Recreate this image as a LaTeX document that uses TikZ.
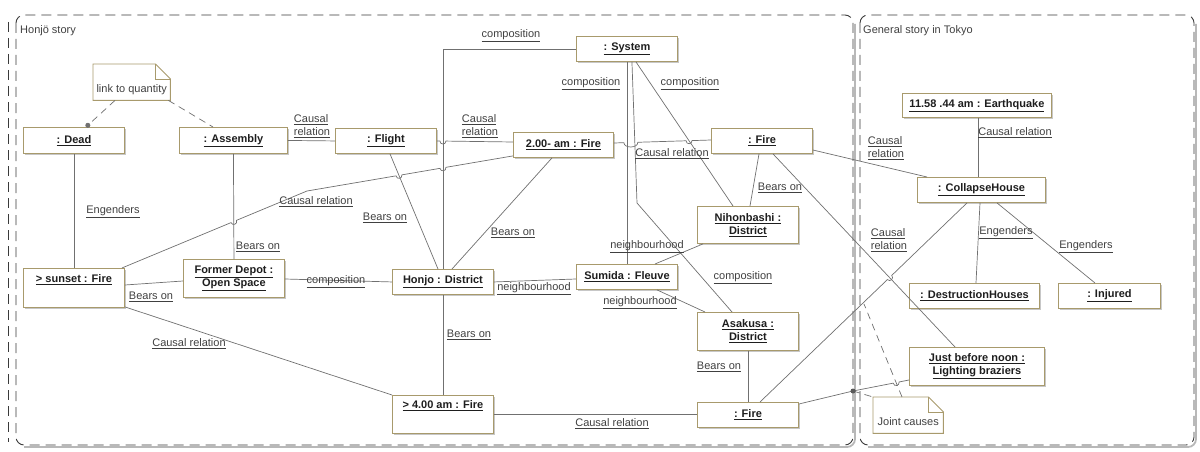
\documentclass[tikz,border=0pt]{standalone}
\usepackage{fontspec}
\setmainfont{Liberation Sans}
\usetikzlibrary{calc,shadows,arrows.meta}
\definecolor{boxc}{HTML}{A89A6C}
\definecolor{linec}{HTML}{707070}
\definecolor{txtc}{HTML}{1E1E1E}
\definecolor{lblc}{HTML}{404040}
\definecolor{framec}{HTML}{3A3A3A}
\newcommand{\myul}[1]{\underline{#1}}
\begin{document}
\begin{tikzpicture}[x=1pt,y=-1pt,
  obj/.style={draw=boxc, fill=white, line width=0.9pt, anchor=north west, inner sep=0pt, align=center,
    font=\fontsize{11}{13}\selectfont\bfseries, text=txtc,
    drop shadow={shadow xshift=2pt, shadow yshift=-2pt, fill=black!22, opacity=1}},
  lbl/.style={inner sep=0pt, align=left, font=\fontsize{11}{13}\selectfont, text=lblc},
  conn/.style={draw=linec, line width=0.7pt},
  notelink/.style={draw=linec, line width=0.7pt, dash pattern=on 7pt off 5pt},
  frame/.style={draw=framec, line width=0.9pt, dash pattern=on 10pt off 6pt},
  notebox/.style={inner sep=0pt, anchor=north west, font=\fontsize{11}{13}\selectfont, text=lblc, align=left},
  noteline/.style={draw=boxc, line width=0.9pt},
  hop/.style={bend right=90, looseness=1.7},
  widehop/.style={bend right=90, looseness=1.1}
]
\useasboundingbox (0,0) rectangle (1200,452);

% ---------- frames ----------
\draw[black!28, line width=1.8pt, rounded corners=8pt] (855,24) -- (855,447) -- (24,447);
\draw[black!28, line width=1.8pt, rounded corners=8pt] (1196,24) -- (1196,447) -- (868,447);
\draw[frame, rounded corners=8pt] (16,15) rectangle (853,445);
\draw[frame, rounded corners=8pt] (860,15) rectangle (1194,445);
\draw[frame] (8,22) -- (8,442);
\node[lbl, anchor=west, text=txtc!85] (honjolbl) at (20,31) {Honjö story};
\node[lbl, anchor=west, text=txtc!85] (genlbl) at (863,31) {General story in Tokyo};

% ---------- objects ----------
\node[obj, minimum width=101pt, minimum height=26pt] (dead) at (23,127) {\myul{: Dead}};
\node[obj, minimum width=108pt, minimum height=26pt] (assembly) at (179,127) {\myul{: Assembly}};
\node[obj, minimum width=101pt, minimum height=25pt] (flight) at (335,128) {\myul{: Flight}};
\node[obj, minimum width=100pt, minimum height=25pt] (fire200) at (513,132) {\myul{2.00- am : Fire}};
\node[obj, minimum width=101pt, minimum height=25pt] (system) at (576,36) {\myul{: System}};
\node[obj, minimum width=101pt, minimum height=25pt] (fireA) at (711,128) {\myul{: Fire}};
\node[obj, minimum width=149pt, minimum height=24pt] (quake) at (902,93) {\myul{11.58 .44 am : Earthquake}};
\node[obj, minimum width=128pt, minimum height=25pt] (collapse) at (917,177) {\myul{: CollapseHouse}};
\node[obj, minimum width=130pt, minimum height=25pt] (destr) at (909,283) {\myul{: DestructionHouses}};
\node[obj, minimum width=102pt, minimum height=25pt] (injured) at (1058,283) {\myul{: Injured}};
\node[obj, minimum width=135pt, minimum height=38pt] (noon) at (909,347) {\myul{Just before noon :}\\\myul{Lighting braziers}};
\node[obj, minimum width=101pt, minimum height=25pt] (fireB) at (697,402) {\myul{: Fire}};
\node[obj, minimum width=101pt, minimum height=38pt] (asakusa) at (697,312) {\myul{Asakusa :}\\\myul{District}};
\node[obj, minimum width=101pt, text height=13pt, text depth=25pt] (fire400) at (392,395) {\myul{> 4.00 am : Fire}};
\node[obj, minimum width=101pt, text height=14pt, text depth=25pt] (sunset) at (23,268) {\myul{> sunset : Fire}};
\node[obj, minimum width=101pt, minimum height=38pt] (depot) at (183,259) {\myul{Former Depot :}\\\myul{Open Space}};
\node[obj, minimum width=101pt, minimum height=25pt] (honjo) at (392,269) {\myul{Honjo : District}};
\node[obj, minimum width=101pt, minimum height=25pt] (sumida) at (576,264) {\myul{Sumida : Fleuve}};
\node[obj, minimum width=101pt, minimum height=37pt] (nihon) at (697,206) {\myul{Nihonbashi :}\\\myul{District}};

% ---------- notes ----------
\node[notebox, minimum width=77pt, text height=28pt, text depth=8pt] (note1) at (93,64) {link to quantity};
\draw[noteline] (note1.north west) -- ($(note1.north east)+(-15,0)$) -- ($(note1.north east)+(0,15)$)
  -- (note1.south east) -- (note1.south west) -- cycle;
\draw[noteline] ($(note1.north east)+(-15,0)$) -- ($(note1.north east)+(-15,15)$) -- ($(note1.north east)+(0,15)$);
\node[notebox, minimum width=70pt, text height=28pt, text depth=8pt] (note2) at (873,397) {Joint causes};
\draw[noteline] (note2.north west) -- ($(note2.north east)+(-15,0)$) -- ($(note2.north east)+(0,15)$)
  -- (note2.south east) -- (note2.south west) -- cycle;
\draw[noteline] ($(note2.north east)+(-15,0)$) -- ($(note2.north east)+(-15,15)$) -- ($(note2.north east)+(0,15)$);

% ---------- helper coordinates ----------
\coordinate (c10a) at (honjo.north |- system.west);
\coordinate (f11a) at ($(flight.south west)+(55,0)$);
\coordinate (f11b) at ($(honjo.north west)+(46,0)$);
\coordinate (s8a) at ($(sunset.north east)+(-3,0)$);
\coordinate (s8b) at (307,191);
\coordinate (s8c) at ($(fire200.south west)+(0,-2)$);
\coordinate (s14a) at ($(system.south)+(5,0)$);
\coordinate (s14b) at (637,203);
\coordinate (s14c) at ($(asakusa.north west)+(35,0)$);
\coordinate (n14a) at ($(system.south)+(9,0)$);
\coordinate (n14b) at ($(nihon.north west)+(36,0)$);
\coordinate (e13a) at ($(fire200.north east)+(0,11)$);
\coordinate (e13b) at ($(fireA.north west)+(0,12)$);
\coordinate (e16a) at ($(fireA.south west)+(62,0)$);
\coordinate (e16b) at ($(noon.north west)+(46,0)$);
\coordinate (e21a) at ($(fireB.north west)+(63,0)$);
\coordinate (e21b) at ($(collapse.south west)+(50,0)$);
\coordinate (jc) at (853,391);
\coordinate (jn) at (864,304);
\coordinate (e26a) at ($(fireB.north east)+(0,2)$);
\coordinate (e26b) at ($(noon.north west)+(0,33)$);
\coordinate (nt2) at ($(note2.north west)+(29,0)$);
\coordinate (e9a) at (flight.east);
\coordinate (e9b) at ($(fire200.north west)+(0,10)$);

\coordinate (h8a) at (intersection of s8a--s8b and assembly.south--depot.north);
\coordinate (h8b) at (intersection of s8b--s8c and f11a--f11b);
\coordinate (h8c) at (intersection of s8b--s8c and c10a--honjo.north);
\coordinate (h9) at (intersection of e9a--e9b and c10a--honjo.north);
\coordinate (h13a) at (intersection of e13a--e13b and system.south--sumida.north);
\coordinate (h13b) at (intersection of e13a--e13b and s14a--s14b);
\coordinate (h13c) at (intersection of e13a--e13b and n14a--n14b);
\coordinate (h21) at (intersection of e21a--e21b and e16a--e16b);
\coordinate (h26) at (intersection of jc--e26b and nt2--jn);

% ---------- connectors ----------
\draw[notelink, -{Circle[length=5pt]}] ($(note1.south west)+(22,0)$) -- ($(dead.north west)+(63,0)$);
\draw[notelink] ($(note1.south east)+(-2,0)$) -- ($(assembly.north west)+(34,0)$);
\draw[conn] (assembly.east) -- (flight.west);
\draw[conn] (dead.south) -- (sunset.north);
\draw[conn] (assembly.south) -- (depot.north);
\draw[conn] ($(sunset.north east)+(0,17)$) -- ($(depot.north west)+(0,22)$);
\draw[conn] ($(depot.north east)+(0,20)$) -- (honjo.west);
\draw[conn] (s8a) -- ($(h8a)!3pt!(s8a)$) to[hop] ($(h8a)!3pt!(s8b)$) -- (s8b)
  -- ($(h8b)!3pt!(s8b)$) to[hop] ($(h8b)!3pt!(s8c)$)
  -- ($(h8c)!3pt!(s8b)$) to[hop] ($(h8c)!3pt!(s8c)$) -- (s8c);
\draw[conn] (e9a) -- ($(h9)!3pt!(e9a)$) to[hop] ($(h9)!3pt!(e9b)$) -- (e9b);
\draw[conn] (system.west) -| (honjo.north);
\draw[conn] (f11a) -- (f11b);
\draw[conn] ($(fire200.south west)+(39,0)$) -- ($(honjo.north west)+(60,0)$);
\draw[conn] (e13a) -- ($(h13a)!3pt!(e13a)$) to[widehop] ($(h13b)!3pt!(e13b)$)
  -- ($(h13c)!3pt!(e13a)$) to[hop] ($(h13c)!3pt!(e13b)$) -- (e13b);
\draw[conn] (system.south) -- (sumida.north);
\draw[conn] (s14a) -- (s14b) -- (s14c);
\draw[conn] (n14a) -- (n14b);
\draw[conn] ($(fireA.south west)+(48,0)$) -- ($(nihon.north west)+(53,0)$);
\draw[conn] (e16a) -- (e16b);
\draw[conn] ($(fireA.north east)+(0,22)$) -- ($(collapse.north west)+(10,0)$);
\draw[conn] ($(quake.south west)+(76,0)$) -- ($(collapse.north west)+(61,0)$);
\draw[conn] ($(collapse.south west)+(63,0)$) -- ($(destr.north west)+(67,0)$);
\draw[conn] ($(collapse.south west)+(80,0)$) -- ($(injured.north west)+(37,0)$);
\draw[conn] (e21a) -- ($(h21)!3pt!(e21a)$) to[hop] ($(h21)!3pt!(e21b)$) -- (e21b);
\draw[conn] (honjo.east) -- ($(sumida.north west)+(0,15)$);
\draw[conn] ($(sumida.north west)+(79,0)$) -- ($(nihon.south west)+(6,0)$);
\draw[conn] ($(sumida.south west)+(81,0)$) -- ($(asakusa.north west)+(8,0)$);
\draw[conn] (asakusa.south) -- (fireB.north);
\draw[conn] ($(fire400.north east)+(0,19)$) -- ($(fireB.north west)+(0,12)$);
\draw[conn] ($(sunset.south east)+(0,-1)$) -- (fire400.north west);
\draw[conn] (honjo.south) -- (fire400.north);
\draw[conn] (e26a) -- (jc) -- ($(h26)!3pt!(jc)$) to[hop] ($(h26)!3pt!(e26b)$) -- (e26b);
\draw[notelink] (jc) -- (note2.north west);
\draw[notelink] (nt2) -- (jn);
\fill[black!65] (jc) circle (2.5pt);

% ---------- connector labels ----------
\node[lbl] (l1) at (312,126) {\myul{Causal}\\\myul{relation}};
\node[lbl] (l2) at (480,126) {\myul{Causal}\\\myul{relation}};
\node[lbl] (l3) at (511,36) {\myul{composition}};
\node[lbl] (l4) at (591,84) {\myul{composition}};
\node[lbl] (l5) at (690,84) {\myul{composition}};
\node[lbl] (l6) at (672,154) {\myul{Causal relation}};
\node[lbl] (l7) at (113,212) {\myul{Engenders}};
\node[lbl] (l8) at (316,202) {\myul{Causal relation}};
\node[lbl] (l9) at (258,247) {\myul{Bears on}};
\node[lbl] (l10) at (151,297) {\myul{Bears on}};
\node[lbl] (l11) at (336,282) {\myul{composition}};
\node[lbl] (l12) at (385,218) {\myul{Bears on}};
\node[lbl] (l13) at (513,233) {\myul{Bears on}};
\node[lbl] (l14) at (534,289) {\myul{neighbourhood}};
\node[lbl] (l15) at (647,247) {\myul{neighbourhood}};
\node[lbl] (l16) at (640,303) {\myul{neighbourhood}};
\node[lbl] (l17) at (743,278) {\myul{composition}};
\node[lbl] (l18) at (780,188) {\myul{Bears on}};
\node[lbl] (l19) at (189,344) {\myul{Causal relation}};
\node[lbl] (l20) at (469,335) {\myul{Bears on}};
\node[lbl] (l21) at (719,367) {\myul{Bears on}};
\node[lbl] (l22) at (612,424) {\myul{Causal relation}};
\node[lbl] (l23) at (886,148) {\myul{Causal}\\\myul{relation}};
\node[lbl] (l24) at (1015,133) {\myul{Causal relation}};
\node[lbl] (l25) at (889,240) {\myul{Causal}\\\myul{relation}};
\node[lbl] (l26) at (1006,233) {\myul{Engenders}};
\node[lbl] (l27) at (1086,247) {\myul{Engenders}};
\end{tikzpicture}
\end{document}
